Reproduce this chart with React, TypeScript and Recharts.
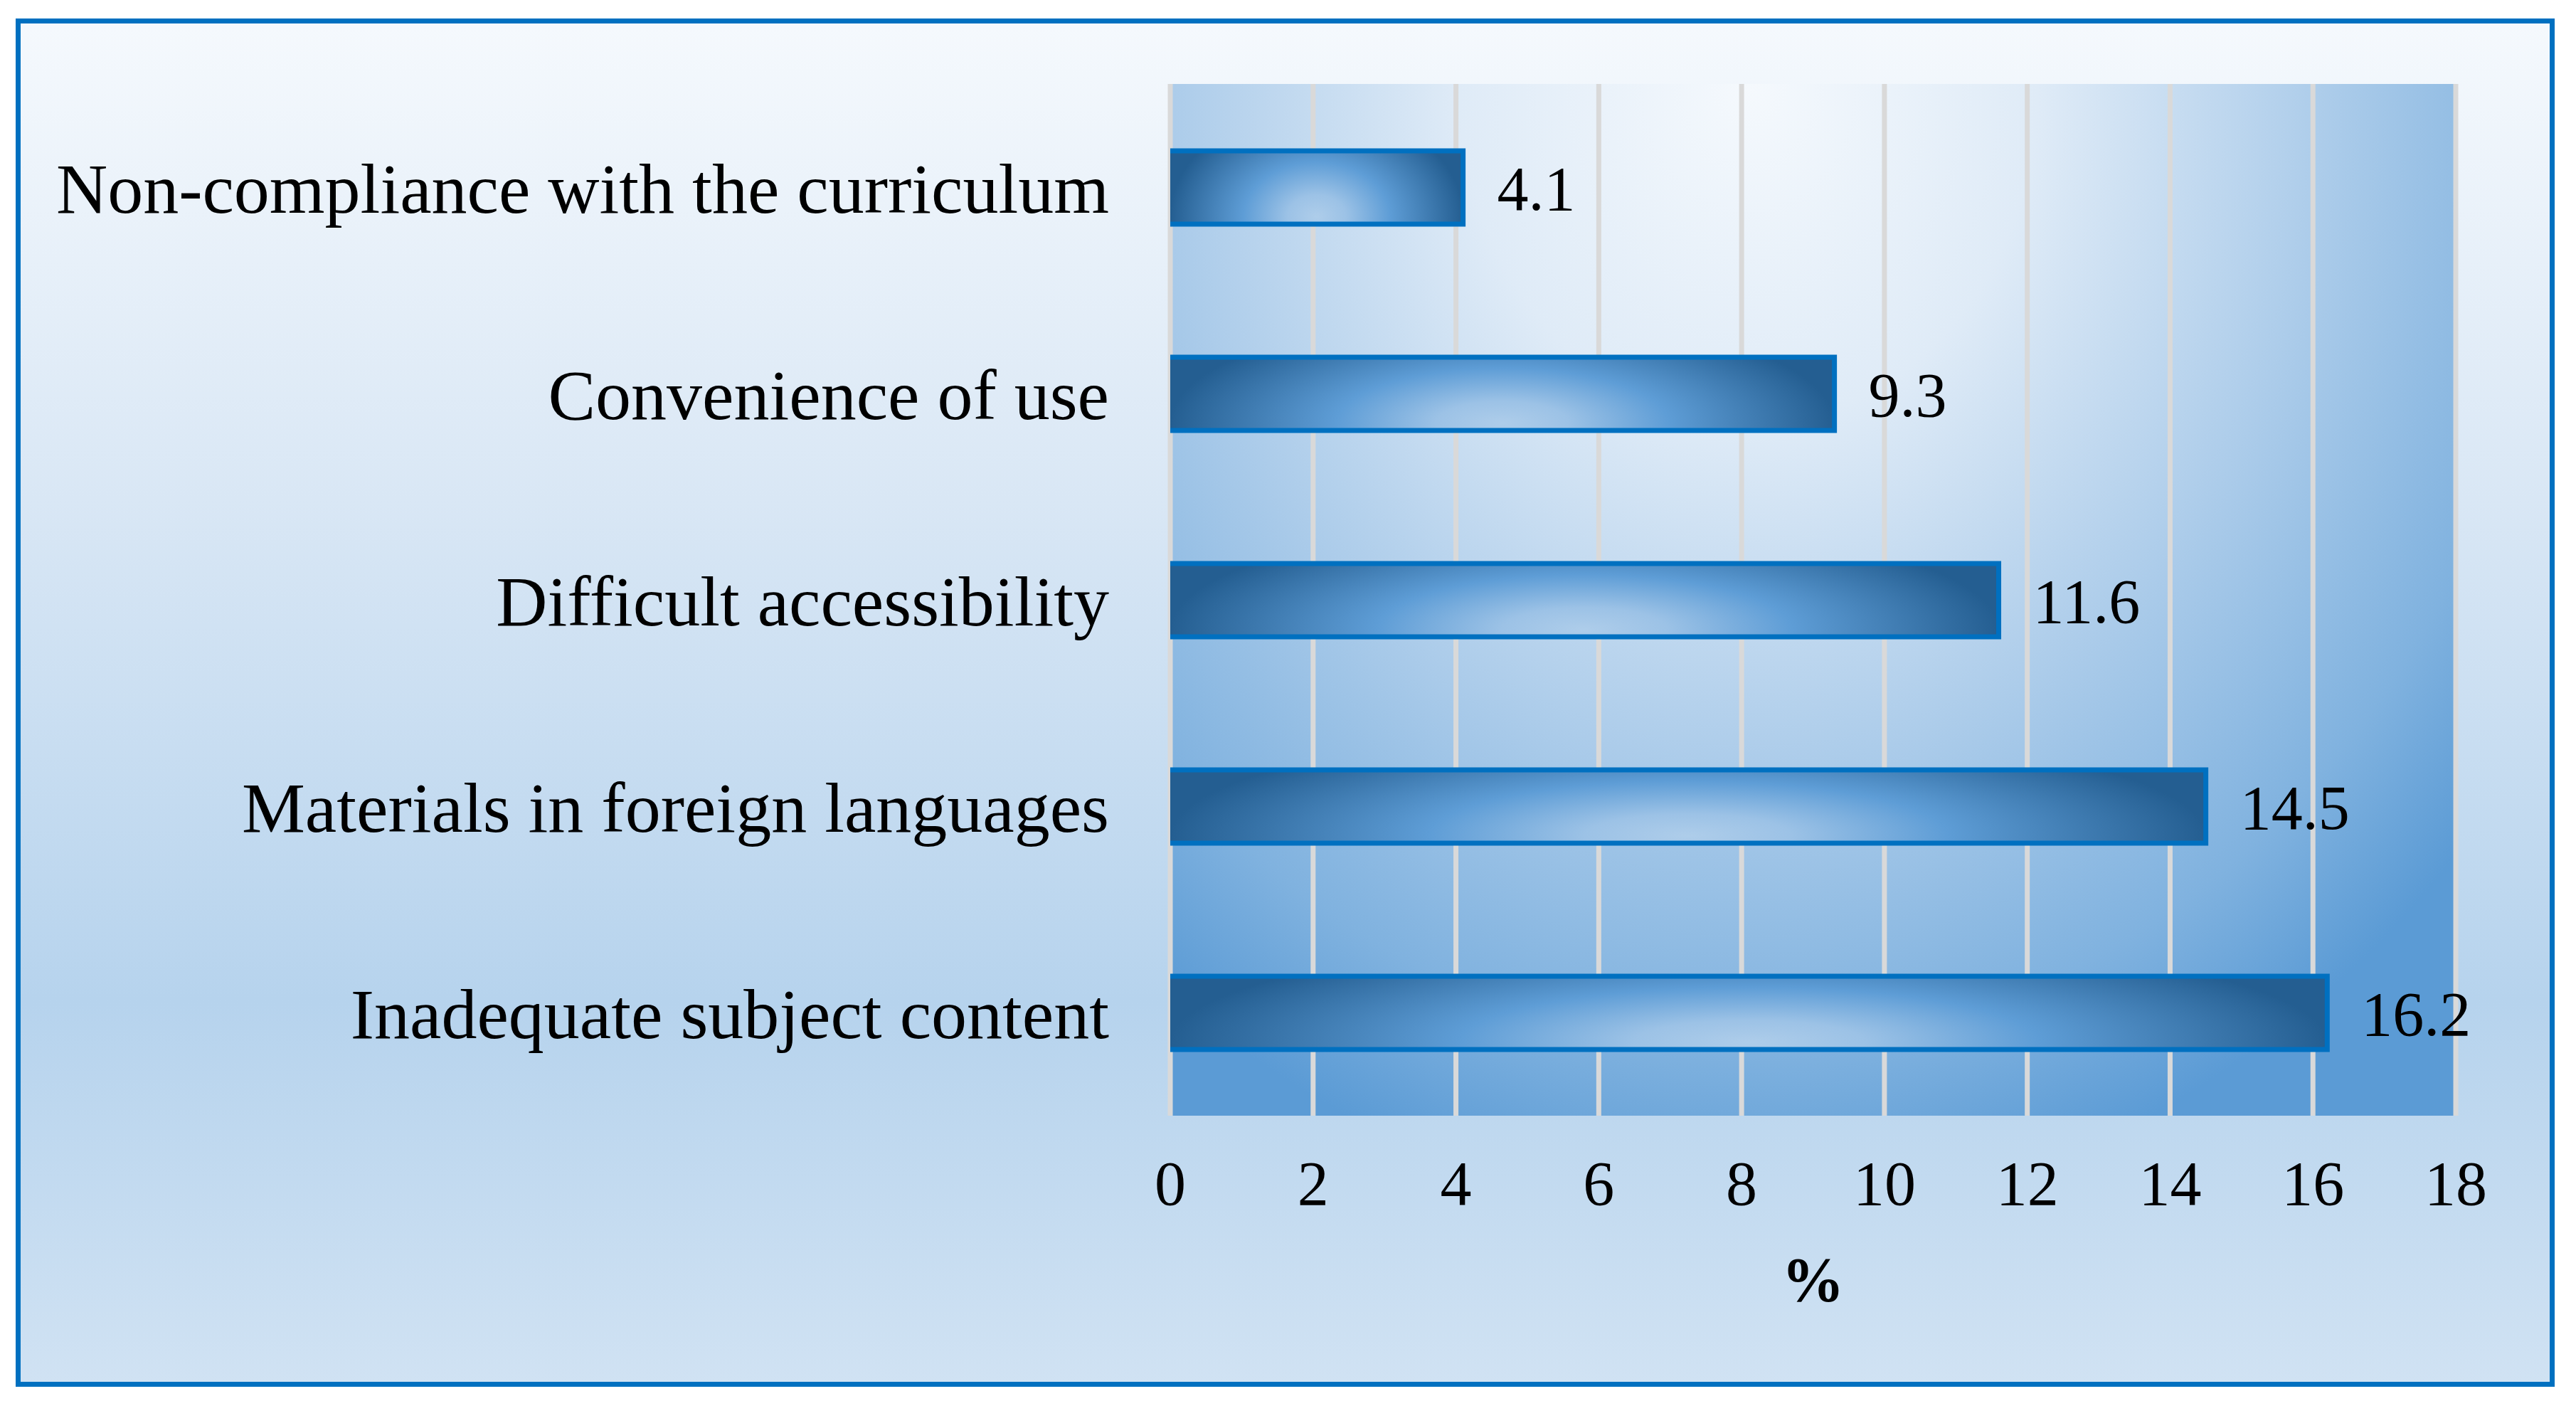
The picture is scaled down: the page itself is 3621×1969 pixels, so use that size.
import React from 'react';
import {
  BarChart,
  Bar,
  XAxis,
  YAxis,
  CartesianGrid,
  LabelList,
} from 'recharts';

const categories = [
  'Non-compliance with the curriculum',
  'Convenience of use',
  'Difficult accessibility',
  'Materials in foreign languages',
  'Inadequate subject content',
];
const values = [4.1, 9.3, 11.6, 14.5, 16.2];
const xTicks = [0, 2, 4, 6, 8, 10, 12, 14, 16, 18];

const data = categories.map((name, i) => ({ name, value: values[i] }));

const FONT = "'Times New Roman', 'Liberation Serif', serif";

const BarShape = (props: any) => {
  const { x, y, width, height } = props;
  if (!width || width <= 0) return null;
  return (
    <g>
      <rect x={x} y={y} width={width} height={height} fill="url(#barGrad)" />
      <path
        d={`M${x},${y} H${x + width} V${y + height} H${x}`}
        fill="none"
        stroke="#0070c0"
        strokeWidth={7}
      />
    </g>
  );
};

export default function App() {
  return (
    <div style={{ position: 'absolute', left: 0, top: 0, width: 3621, height: 1969 }}>
      <div
        style={{
          position: 'absolute',
          left: 22,
          top: 26,
          width: 3569,
          height: 1923,
          boxSizing: 'border-box',
          border: '7px solid #0070c0',
          background: 'linear-gradient(to bottom, #f5f9fd 0%, #d9e7f5 35%, #b6d3ed 72%, #d0e2f3 100%)',
        }}
      />
      <div style={{ position: 'absolute', left: 0, top: 0 }}>
        <BarChart
          width={3621}
          height={1969}
          data={data}
          layout="vertical"
          barSize={103}
          margin={{ top: 118, right: 169, bottom: 141, left: 0 }}
        >
          <defs>
            <radialGradient
              id="plotGrad"
              cx={0.45}
              cy={0}
              r={1}
              gradientTransform="translate(0.45,0) scale(0.75,1.1) translate(-0.45,0)"
            >
              <stop offset="0%" stopColor="#f5f9fd" />
              <stop offset="30%" stopColor="#dfebf7" />
              <stop offset="60%" stopColor="#acccea" />
              <stop offset="85%" stopColor="#80b2df" />
              <stop offset="100%" stopColor="#5b9bd5" />
            </radialGradient>
            <radialGradient
              id="barGrad"
              cx={0.5}
              cy={0.9}
              r={0.5}
              gradientTransform="translate(0.5,0.9) scale(1,3) translate(-0.5,-0.9)"
            >
              <stop offset="0%" stopColor="#aecdea" />
              <stop offset="20%" stopColor="#9cc2e6" />
              <stop offset="50%" stopColor="#5e9dd6" />
              <stop offset="100%" stopColor="#245e91" />
            </radialGradient>
          </defs>
          <CartesianGrid
            horizontal={false}
            stroke="#d9d9d9"
            strokeWidth={7}
            fill="url(#plotGrad)"
            fillOpacity={1}
          />
          <XAxis
            type="number"
            domain={[0, 18]}
            ticks={xTicks}
            axisLine={false}
            tickLine={false}
            tickMargin={57}
            height={260}
            tick={{ fill: '#000', fontSize: 88, fontFamily: FONT }}
            label={{
              value: '%',
              position: 'insideBottom',
              offset: 0,
              fill: '#000',
              fontSize: 88,
              fontWeight: 'bold',
              fontFamily: FONT,
            }}
          />
          <YAxis
            type="category"
            dataKey="name"
            axisLine={false}
            tickLine={false}
            width={1645}
            tickMargin={80}
            tick={{ fill: '#000', fontSize: 100, fontFamily: FONT }}
          />
          <Bar dataKey="value" shape={<BarShape />} isAnimationActive={false}>
            <LabelList
              dataKey="value"
              position="right"
              offset={48}
              fill="#000"
              fontSize={88}
              fontFamily={FONT}
            />
          </Bar>
        </BarChart>
      </div>
    </div>
  );
}
